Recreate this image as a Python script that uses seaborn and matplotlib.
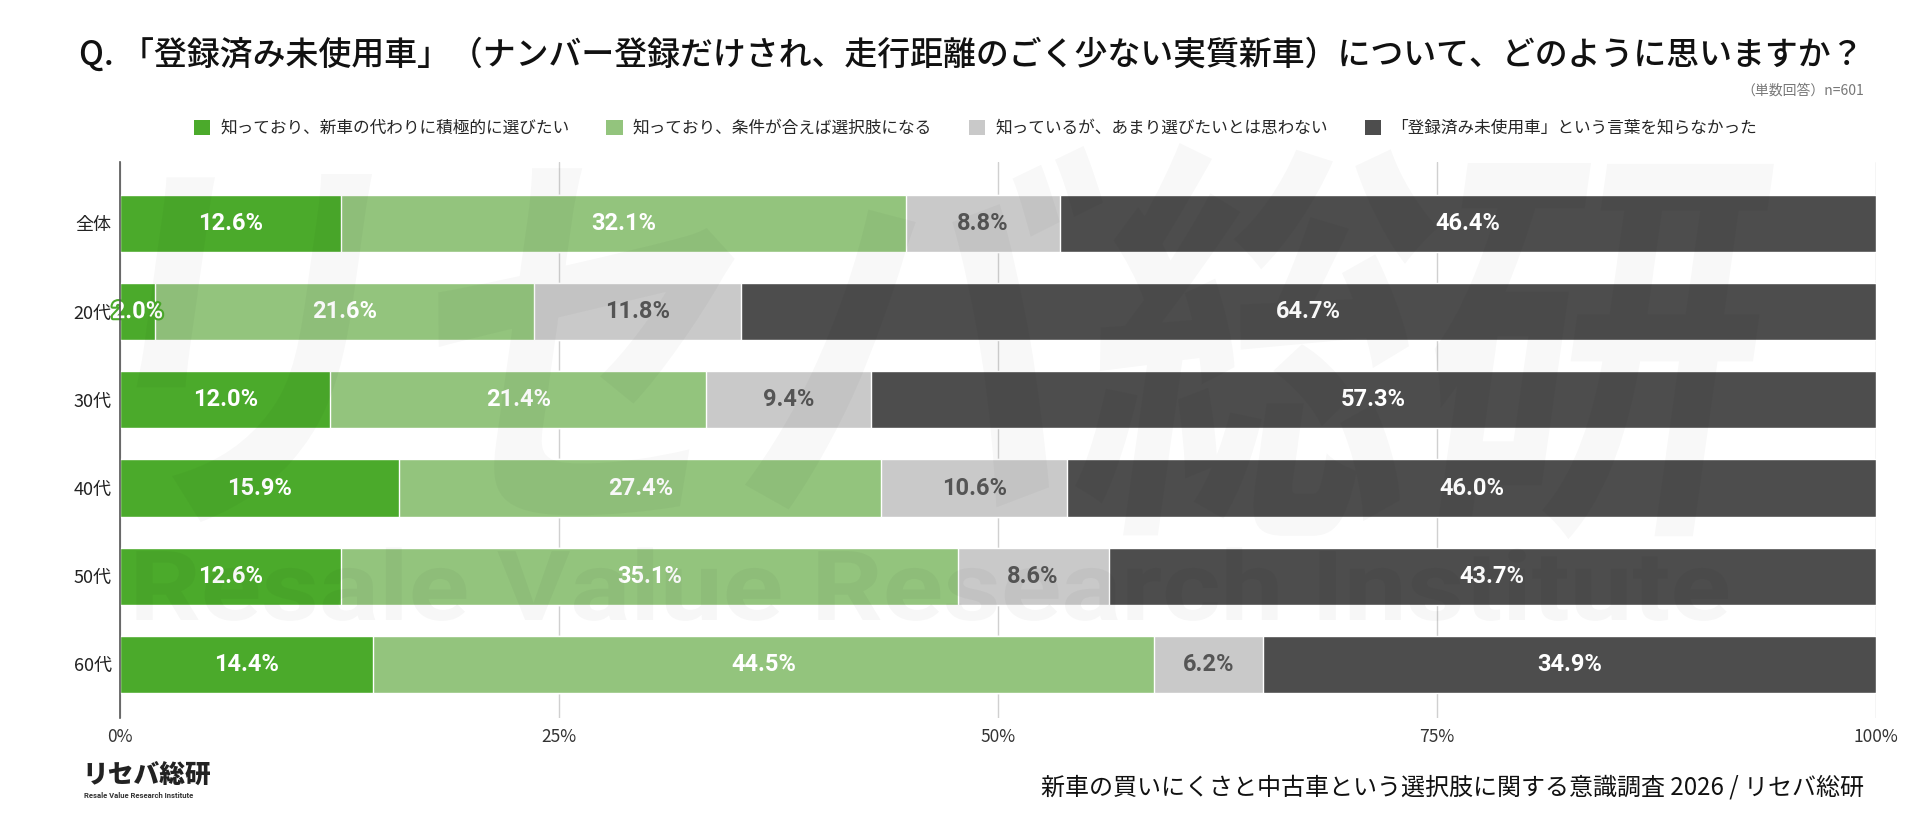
import matplotlib
matplotlib.use('Agg')
import matplotlib.pyplot as plt
import matplotlib.patheffects as pe
from matplotlib.patches import Patch, PathPatch
from matplotlib.textpath import TextPath
from matplotlib.font_manager import FontProperties
from matplotlib.transforms import Affine2D
import numpy as np
import pandas as pd
import seaborn as sns

# data
groups = ['全体', '20代', '30代', '40代', '50代', '60代']
answers = ['知っており、新車の代わりに積極的に選びたい',
           '知っており、条件が合えば選択肢になる',
           '知っているが、あまり選びたいとは思わない',
           '「登録済み未使用車」という言葉を知らなかった']
pos_active = [12.6, 2.0, 12.0, 15.9, 12.6, 14.4]
pos_option = [32.1, 21.6, 21.4, 27.4, 35.1, 44.5]
neg_known = [8.8, 11.8, 9.4, 10.6, 8.6, 6.2]
unknown = [46.4, 64.7, 57.3, 46.0, 43.7, 34.9]
xticks = [0, 25, 50, 75, 100]

colors = ['#4BAA2B', '#93C47D', '#C9C9C9', '#4D4D4D']
label_colors = ['white', 'white', '#555555', 'white']

sns.set_style('white')
plt.rcParams['font.family'] = ['Noto Sans CJK JP', 'DejaVu Sans']

df = pd.DataFrame({'group': groups, answers[0]: pos_active, answers[1]: pos_option,
                   answers[2]: neg_known, answers[3]: unknown})
vals = df[answers].to_numpy()
# bars run to 100% in the chart, so scale each row to its total
shares = vals / vals.sum(axis=1, keepdims=True) * 100
cum = np.cumsum(shares, axis=1)

W, H = 19.2, 8.17
fig = plt.figure(figsize=(W, H), dpi=100)
ax = fig.add_axes([0.0625, 0.121, 0.9145, 0.681])

# stacked bars: draw cumulative totals from the longest down
for i in range(3, -1, -1):
    sns.barplot(x=cum[:, i], y=df['group'], color=colors[i], orient='h',
                width=0.65, saturation=1, ax=ax, zorder=2)

# segment labels
for r in range(len(groups)):
    for i in range(4):
        mid = cum[r, i] - shares[r, i] / 2
        t = ax.text(mid, r, f'{vals[r, i]:.1f}%', ha='center', va='center',
                    color=label_colors[i], fontsize=17, fontweight='bold',
                    family=['Roboto', 'DejaVu Sans'], zorder=5)
        if shares[r, i] < 4:
            t.set_path_effects([pe.withStroke(linewidth=3, foreground=colors[i])])

ax.set_xlim(0, 100)
ax.set_ylim(5.61, -0.70)
ax.set_xticks(xticks)
ax.set_xticklabels([f'{v}%' for v in xticks], fontsize=12.5, color='#333333')
ax.tick_params(axis='x', length=0, pad=7)
ax.tick_params(axis='y', length=0, pad=6, labelsize=13, labelcolor='#222222')
ax.set_xlabel('')
ax.set_ylabel('')
ax.grid(axis='x', color='#D0D0D0', linewidth=1, zorder=0)
ax.set_axisbelow(True)
for s in ['top', 'right', 'bottom']:
    ax.spines[s].set_visible(False)
ax.spines['left'].set_color('#555555')
ax.spines['left'].set_linewidth(1.2)
ax.spines['left'].set_zorder(6)


# faint watermark, fitted into a box given in figure fractions
def watermark(text, family, box, skew=0, alpha=0.04):
    tp = TextPath((0, 0), text, size=1, prop=FontProperties(family=family, weight='bold'))
    ext = tp.get_extents()
    x0, y0, x1, y1 = box
    sx = (x1 - x0) * W / ext.width
    sy = (y1 - y0) * H / ext.height
    tr = (Affine2D().translate(-ext.x0, -ext.y0).scale(sx, sy)
          .skew_deg(skew, 0).translate(x0 * W, y0 * H) + fig.dpi_scale_trans)
    fig.add_artist(PathPatch(tp, transform=tr, facecolor='#000000', edgecolor='none',
                             alpha=alpha, zorder=4))


watermark('リセバ総研', 'Noto Sans CJK JP', (0.06, 0.34, 0.90, 0.825), skew=8, alpha=0.028)
watermark('Resale Value Research Institute', 'Roboto', (0.071, 0.24, 0.90, 0.33), alpha=0.032)

# title and notes
fig.text(0.506, 0.932, 'Q. 「登録済み未使用車」（ナンバー登録だけされ、走行距離のごく少ない実質新車）について、どのように思いますか？',
         ha='center', va='center', fontsize=23.7, fontweight='medium', color='#111111')
fig.text(0.971, 0.889, '（単数回答）n=601', ha='right', va='center', fontsize=10, color='#777777')

handles = [Patch(facecolor=c, edgecolor='none') for c in colors]
fig.legend(handles, answers, loc='center', bbox_to_anchor=(0.508, 0.843), ncol=4,
           frameon=False, fontsize=12, handlelength=1.0, handleheight=1.0,
           handletextpad=0.6, columnspacing=2.2)

# footer
fig.text(0.971, 0.036, '新車の買いにくさと中古車という選択肢に関する意識調査 2026 / リセバ総研',
         ha='right', va='center', fontsize=17.3, color='#111111')
fig.text(0.043, 0.051, 'リセバ総研', ha='left', va='center', fontsize=18.5,
         fontweight='heavy', color='#222222')
fig.text(0.044, 0.026, 'Resale Value Research Institute', ha='left', va='center',
         fontsize=5.5, fontweight='bold', color='#333333', family=['Roboto', 'DejaVu Sans'])

fig.savefig('out.png', dpi=100, facecolor='white')
